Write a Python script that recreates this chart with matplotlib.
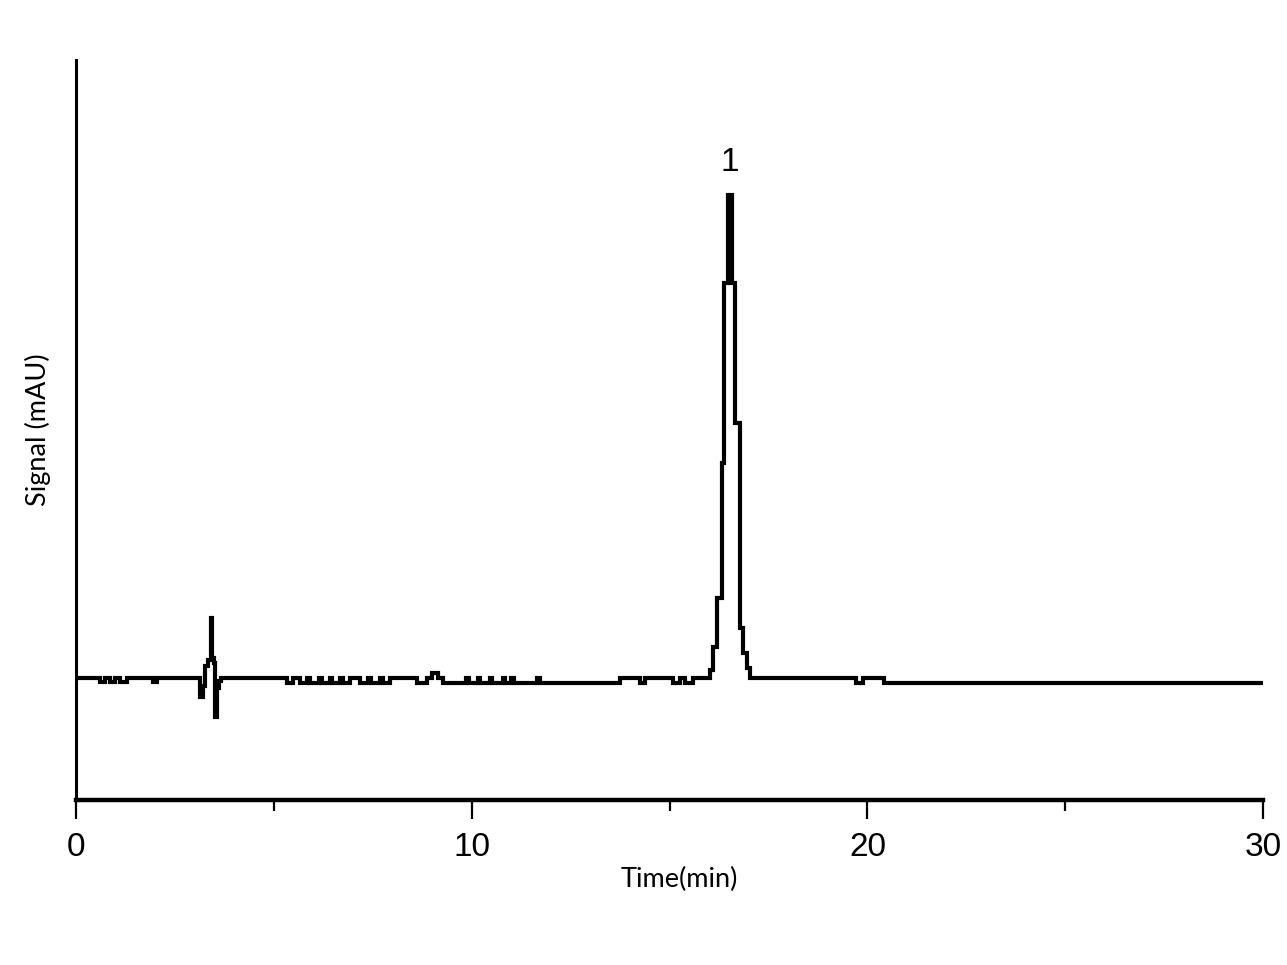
import matplotlib
matplotlib.use("Agg")
import matplotlib.pyplot as plt
from matplotlib.ticker import MultipleLocator
from matplotlib import font_manager

# Chromatogram breakpoints (time in min, signal in mAU, step-wise detector output)
time_min = [0.00, 0.61, 0.73, 0.86, 0.99, 1.11, 1.29, 1.95, 2.05,
            3.11, 3.13, 3.21, 3.26, 3.34, 3.41, 3.44, 3.49, 3.51, 3.56, 3.61, 3.66,
            5.33, 5.48, 5.66, 5.84, 5.91, 6.15, 6.22, 6.42, 6.48, 6.68, 6.74, 6.92,
            7.18, 7.38, 7.45, 7.68, 7.76, 7.94, 8.62, 8.87, 9.00, 9.15, 9.28,
            9.85, 9.92, 10.15, 10.22, 10.45, 10.52, 10.78, 10.85, 11.00, 11.07, 11.65, 11.73,
            13.75, 14.25, 14.38, 15.09, 15.26, 15.39, 15.59,
            16.02, 16.10, 16.20, 16.33, 16.38, 16.48, 16.58, 16.66, 16.78, 16.86, 16.96, 17.03,
            19.70, 19.90, 20.43, 30.00]
signal_mau = [0, -4, 0, -4, 0, -4, 0, -4, 0,
              0, -19, -8, 12, 18, 60, 20, 15, -39, -10, -3, 0,
              -5, 0, -5, 0, -5, 0, -5, 0, -5, 0, -5, 0,
              -5, 0, -5, 0, -5, 0, -5, 0, 5, 0, -5,
              0, -5, 0, -5, 0, -5, 0, -5, 0, -5, 0, -5,
              0, -5, 0, -5, 0, -5, 0,
              8, 31, 80, 215, 395, 483, 395, 255, 50, 25, 10, 0,
              -5, 0, -5, -5]

peak_labels = ["1"]
peak_times = [16.53]
peak_heights = [483]

x_major = [0, 10, 20, 30]

# pick a condensed font for the tick numbers if one is installed
available = {f.name for f in font_manager.fontManager.ttflist}
tick_font = [f for f in ["Liberation Sans Narrow", "DejaVu Sans Condensed",
                         "Liberation Sans", "DejaVu Sans"] if f in available] or ["DejaVu Sans"]

fig = plt.figure(figsize=(12.87, 9.65), dpi=100)
ax = fig.add_axes([0.0591, 0.171, 0.9223, 0.7668])

ax.plot(time_min, signal_mau, drawstyle="steps-post", color="black", lw=3.0,
        solid_joinstyle="miter")

ax.set_xlim(0, 30)
ax.set_ylim(-122, 618)

ax.spines["top"].set_visible(False)
ax.spines["right"].set_visible(False)
ax.spines["bottom"].set_linewidth(3.2)
ax.spines["left"].set_linewidth(2.2)

ax.set_xticks(x_major)
ax.xaxis.set_minor_locator(MultipleLocator(5))
ax.tick_params(axis="x", which="major", direction="out", length=14, width=1.6, pad=9,
               labelsize=24)
ax.tick_params(axis="x", which="minor", direction="out", length=8, width=1.6)
ax.set_yticks([])
for lab in ax.get_xticklabels():
    lab.set_family(tick_font)
    lab.set_fontweight("light")

for lbl, t, h in zip(peak_labels, peak_times, peak_heights):
    ax.annotate(lbl, xy=(t, h), xytext=(0, 12), textcoords="offset points",
                ha="center", va="bottom", fontsize=24, family=tick_font,
                fontweight="light")

label_font = ["Lato", "DejaVu Sans"]
ax.text(0.508, -0.108, "Time(min)", transform=ax.transAxes, ha="center", va="center",
        fontsize=19.5, family=label_font)
ax.text(-0.032, 0.5, "Signal (mAU)", transform=ax.transAxes, ha="center", va="center",
        rotation=90, fontsize=19.5, family=label_font)

fig.savefig("out.png", dpi=100, facecolor="white")
